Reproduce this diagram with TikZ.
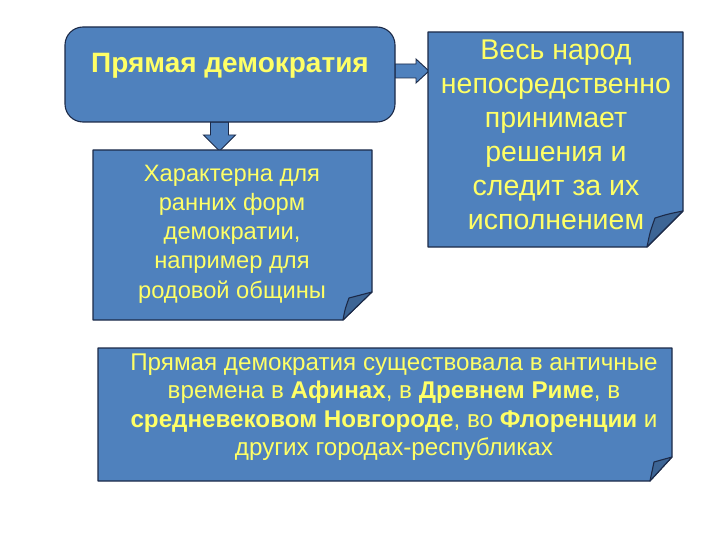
\documentclass[tikz,border=0pt]{standalone}
\usepackage{fontspec}
\setmainfont{Liberation Sans}
\definecolor{boxblue}{HTML}{4F81BD}
\definecolor{folddark}{HTML}{3D6595}
\definecolor{edgecol}{HTML}{1C2A48}
\definecolor{txtcol}{HTML}{FFFF66}
\begin{document}
\begin{tikzpicture}[x=1pt,y=-1pt,
  panel/.style={fill=boxblue, draw=edgecol, line width=1.1pt, line join=round},
  foldpart/.style={fill=folddark, draw=edgecol, line width=1.1pt, line join=round},
  arrowshape/.style={fill=boxblue, draw=edgecol, line width=0.9pt, line join=miter},
  lbl/.style={text=txtcol, align=center, inner sep=0pt}]
\useasboundingbox (0,0) rectangle (720,540);
% arrows (drawn first, boxes on top)
\draw[arrowshape] (395,64) -- (416,64) -- (416,59) -- (429,71) -- (416,83) -- (416,78) -- (395,78) -- cycle;
\draw[arrowshape] (210.5,122) -- (228.5,122) -- (228.5,135) -- (235.5,135) -- (219.5,151) -- (203.5,135) -- (210.5,135) -- cycle;
% title box
\draw[panel, rounded corners=18pt] (65,27) rectangle (395,122);
\node[lbl, font=\bfseries\fontsize{28}{33}\selectfont] (title) at (230,66) {Прямая демократия};
% left box
\draw[panel] (93,150) -- (372,150) -- (372,292) -- (343,320) -- (93,320) -- cycle;
\draw[foldpart] (343,320) .. controls (345,309) .. (349,298) .. controls (360,295) .. (372,292) -- cycle;
\node[lbl, font=\fontsize{23.7}{29.2}\selectfont] (early) at (232,234)
  {Характерна для\\ранних форм\\демократии,\\например для\\родовой общины};
% right box
\draw[panel] (428,32) -- (683,32) -- (683,211) -- (647,247) -- (428,247) -- cycle;
\draw[foldpart] (647,247) .. controls (650,232) .. (655,218) .. controls (668,214) .. (683,211) -- cycle;
\node[lbl, font=\fontsize{28.5}{34}\selectfont] (people) at (556,135)
  {Весь народ\\непосредственно\\принимает\\решения и\\следит за их\\исполнением};
% bottom box
\draw[panel] (98,348) -- (672,348) -- (672,457) -- (650,481) -- (98,481) -- cycle;
\draw[foldpart] (650,481) .. controls (652,471) .. (654,462) .. controls (663,460) .. (672,457) -- cycle;
\node[lbl, font=\fontsize{24.2}{28.5}\selectfont] (history) at (394,407)
  {Прямая демократия существовала в античные\\времена в \textbf{Афинах}, в \textbf{Древнем Риме}, в\\\textbf{средневековом Новгороде}, во \textbf{Флоренции} и\\других городах-республиках};
\end{tikzpicture}
\end{document}
